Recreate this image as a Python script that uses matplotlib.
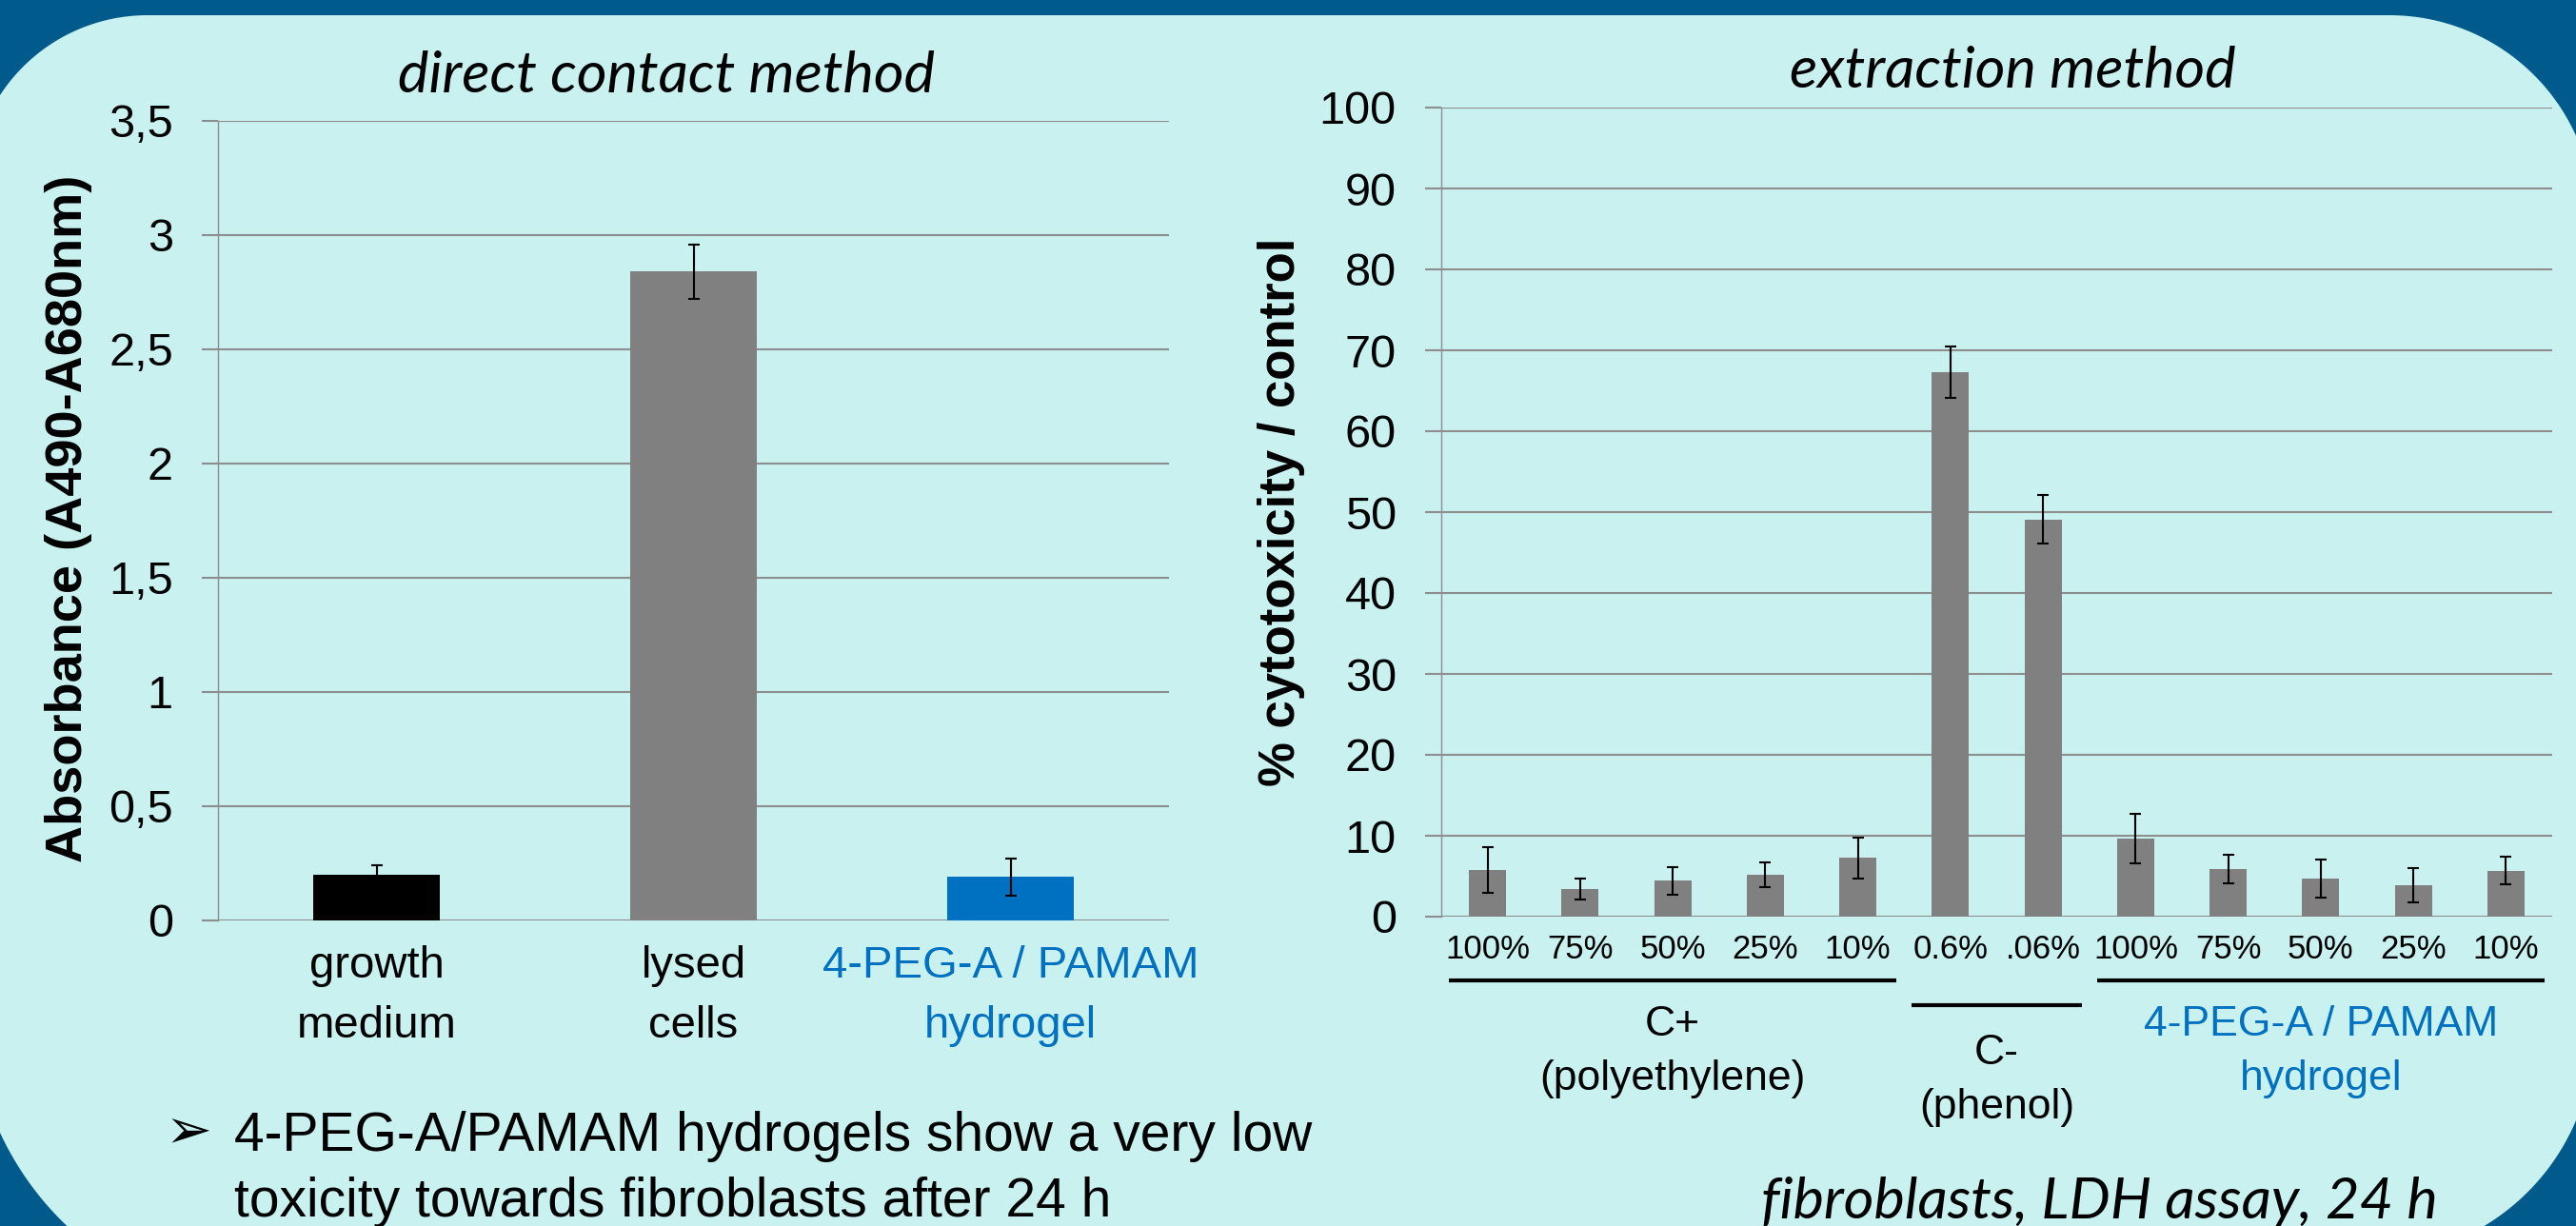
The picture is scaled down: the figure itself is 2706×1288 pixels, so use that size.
import numpy as np
import matplotlib.pyplot as plt
import matplotlib.transforms as mtransforms
from matplotlib.path import Path
from matplotlib.patches import PathPatch

# --- datos: método de contacto directo ---
contact_labels = ['growth\nmedium', 'lysed\ncells', '4-PEG-A / PAMAM\nhydrogel']
contact_values = [0.20, 2.84, 0.19]
contact_errors = [0.04, 0.12, 0.08]
contact_colors = ['#000000', '#808080', '#0070C0']
contact_yticks = [0, 0.5, 1, 1.5, 2, 2.5, 3, 3.5]
contact_yticklabels = ['0', '0,5', '1', '1,5', '2', '2,5', '3', '3,5']

# --- datos: método de extracción ---
extract_labels = ['100%', '75%', '50%', '25%', '10%', '0.6%', '.06%',
                  '100%', '75%', '50%', '25%', '10%']
extract_values = [5.8, 3.4, 4.45, 5.2, 7.25, 67.3, 49.1, 9.65, 5.9, 4.7, 3.9, 5.7]
extract_errors = [2.8, 1.3, 1.7, 1.5, 2.5, 3.2, 3.0, 3.1, 1.75, 2.4, 2.15, 1.7]
extract_yticks = [0, 10, 20, 30, 40, 50, 60, 70, 80, 90, 100]

group_names = ['C+', 'C-', '4-PEG-A / PAMAM']
group_subnames = ['(polyethylene)', '(phenol)', 'hydrogel']
group_start = [0, 5, 7]
group_end = [4, 6, 11]
group_colors = ['black', 'black', '#0070C0']

# --- layout en píxeles de la imagen final ---
W, H, DPI = 2706, 1288, 100
DARK = '#005B8C'
PANEL = '#C8F1F0'
GRID = '#8E8E8E'
BLUE = '#0070C0'

plt.rcParams['font.family'] = ['Liberation Sans', 'DejaVu Sans']


def fx(x):
    return x / W


def fy(y):
    return 1 - y / H


def axes_rect(left, top, right, bottom):
    return [fx(left), fy(bottom), (right - left) / W, (bottom - top) / H]


def arc(cx, cy, r, a0, a1, n=80):
    t = np.radians(np.linspace(a0, a1, n))
    return np.column_stack([cx + r * np.cos(t), cy + r * np.sin(t)])


fig = plt.figure(figsize=(W / DPI, H / DPI), dpi=DPI, facecolor=DARK)

# panel claro con esquinas redondeadas
pts = np.vstack([
    arc(155, 201, 185, 180, 270),
    arc(2510, 231, 215, 270, 360),
    arc(2487, 1084, 238, 0, 90),
    arc(293, 1054, 323, 90, 180),
])
pts = np.column_stack([fx(pts[:, 0]), fy(pts[:, 1])])
panel = PathPatch(Path(np.vstack([pts, pts[:1]]), closed=True),
                  transform=fig.transFigure, facecolor=PANEL,
                  edgecolor='none', zorder=-5)
fig.add_artist(panel)


def style_axes(ax, ysize, ypad):
    ax.set_facecolor('none')
    ax.set_axisbelow(True)
    ax.yaxis.grid(True, color=GRID, linewidth=1.5)
    for s in ['top', 'right', 'bottom']:
        ax.spines[s].set_visible(False)
    ax.spines['left'].set_color(GRID)
    ax.spines['left'].set_linewidth(1.0)
    ax.tick_params(axis='y', length=12, width=1.5, color=GRID,
                   labelsize=ysize, pad=ypad)


err_kw = dict(ecolor='black', elinewidth=1.5, capsize=4.3, capthick=1.5)

# ---- izquierda: direct contact ----
ax1 = fig.add_axes(axes_rect(229, 127, 1228, 967))
x1 = np.arange(len(contact_values))
ax1.bar(x1, contact_values, width=0.4, color=contact_colors,
        yerr=contact_errors, error_kw=err_kw, zorder=3)
ax1.set_xlim(-0.5, len(contact_values) - 0.5)
ax1.set_ylim(0, 3.5)
ax1.set_yticks(contact_yticks, contact_yticklabels)
ax1.set_xticks(x1, contact_labels, linespacing=1.55)
style_axes(ax1, 35, 22)
ax1.tick_params(axis='x', length=0, labelsize=34, pad=19)
ax1.get_xticklabels()[2].set_color(BLUE)

# ---- derecha: extraction ----
ax2 = fig.add_axes(axes_rect(1514, 113, 2681, 963))
x2 = np.arange(len(extract_values))
ax2.bar(x2, extract_values, width=0.4, color='#808080',
        yerr=extract_errors, error_kw=err_kw, zorder=3)
ax2.set_xlim(-0.5, len(extract_values) - 0.5)
ax2.set_ylim(0, 100)
ax2.set_yticks(extract_yticks)
ax2.set_xticks(x2, extract_labels)
style_axes(ax2, 35, 22)
ax2.tick_params(axis='x', length=0, labelsize=25, pad=13)

# grupos bajo el eje x
tr = mtransforms.blended_transform_factory(ax2.transData, fig.transFigure)
group_line_y = [1030, 1056, 1030]
group_text_y = [1088, 1118, 1088]
for i in range(len(group_names)):
    a, b = group_start[i], group_end[i]
    ax2.plot([a - 0.42, b + 0.42], [fy(group_line_y[i])] * 2, transform=tr,
             color='black', lw=3, clip_on=False, solid_capstyle='butt')
    xc = (a + b) / 2
    ax2.text(xc, fy(group_text_y[i]), group_names[i], transform=tr,
             ha='center', va='baseline', fontsize=32, color=group_colors[i])
    ax2.text(xc, fy(group_text_y[i] + 57), group_subnames[i], transform=tr,
             ha='center', va='baseline', fontsize=32, color=group_colors[i])

# etiquetas de ejes y títulos
fig.text(fx(72), fy(545), 'Absorbance (A490-A680nm)', rotation=90,
         ha='center', va='center', fontsize=39, fontweight='bold')
fig.text(fx(1346), fy(538), '% cytotoxicity / control', rotation=90,
         ha='center', va='center', fontsize=38, fontweight='bold')

title_font = dict(family=['Lato', 'DejaVu Sans'], style='italic', fontsize=44)
fig.text(fx(700), fy(97), 'direct contact method', ha='center',
         va='baseline', **title_font)
fig.text(fx(2114), fy(92), 'extraction method', ha='center',
         va='baseline', **title_font)
fig.text(fx(2205), fy(1280), 'fibroblasts, LDH assay, 24 h', ha='center',
         va='baseline', **title_font)

# viñeta con conclusión
fig.text(fx(174), fy(1206), '\u27A2', ha='left', va='baseline',
         fontsize=42, family=['DejaVu Sans'])
fig.text(fx(246), fy(1209), '4-PEG-A/PAMAM hydrogels show a very low',
         ha='left', va='baseline', fontsize=41)
fig.text(fx(246), fy(1278), 'toxicity towards fibroblasts after 24 h',
         ha='left', va='baseline', fontsize=41)

fig.savefig('out.png', dpi=DPI, facecolor=DARK)
